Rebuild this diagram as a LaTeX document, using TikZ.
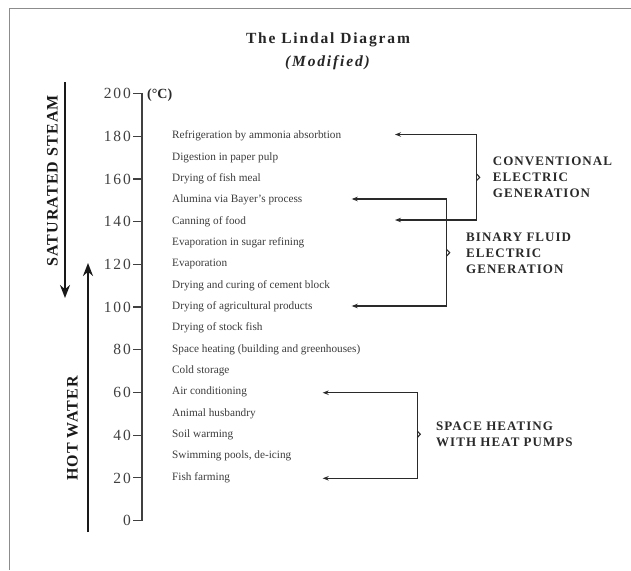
\documentclass[tikz,border=0pt]{standalone}
\usepackage{fontspec}
\setmainfont{Liberation Serif}
\newfontfamily\titlefont[LetterSpace=12]{Liberation Serif}
\newfontfamily\numfont[LetterSpace=12]{Liberation Serif}
\newfontfamily\capfont[LetterSpace=8]{Liberation Serif}
\newfontfamily\sidefont[LetterSpace=7]{Liberation Serif}
\usetikzlibrary{arrows.meta}
\definecolor{itemgray}{HTML}{3C3C3C}
\definecolor{axisgray}{HTML}{404040}
\definecolor{linedark}{HTML}{2A2A2A}
\definecolor{framegray}{HTML}{8C8C8C}
\tikzset{
  itemtext/.style={anchor=base west, inner sep=0pt, text=itemgray, font=\fontsize{11.25}{13}\selectfont},
  numtext/.style={anchor=base east, inner sep=0pt, text=axisgray, font=\numfont\fontsize{15.5}{17}\selectfont},
  grouplabel/.style={anchor=base west, inner sep=0pt, text=linedark, align=left, font=\capfont\bfseries\fontsize{13}{15.8}\selectfont},
  sidelabel/.style={inner sep=0pt, rotate=90, text=black!90, font=\sidefont\bfseries\fontsize{16}{18}\selectfont},
  axisline/.style={draw=axisgray, line width=1.2pt},
  bracketline/.style={draw=linedark, line width=1.2pt, {Stealth[length=6pt,width=4.5pt]}-{Stealth[length=6pt,width=4.5pt]}},
  notchline/.style={draw=linedark, line width=1.1pt},
  bigarrow/.style={draw=black!90, line width=1.9pt, -{Stealth[length=13pt,width=10pt]}},
}
\begin{document}
\begin{tikzpicture}[x=1pt,y=-1pt]
\useasboundingbox[fill=white] (0,0) rectangle (631,570);
% frame (top and left)
\draw[framegray, line width=1.6pt] (9.5,570) -- (9.5,8.5) -- (631,8.5);
% title
\node[anchor=base, inner sep=0pt, font=\titlefont\bfseries\fontsize{15.5}{18}\selectfont, text=black!85] (title) at (328,43.5) {The Lindal Diagram};
\node[anchor=base, inner sep=0pt, font=\titlefont\bfseries\itshape\fontsize{15.5}{18}\selectfont, text=black!85] (subtitle) at (327.5,66.5) {(Modified)};
% axis
\draw[axisline] (133,93.5) -- (142,93.5) -- (142,520.5) -- (133,520.5);
\foreach \t in {180,160,...,20} {
  \pgfmathsetmacro\yy{520.5-2.135*\t}
  \draw[axisline] (133,\yy) -- (142,\yy);
}
\foreach \t in {200,180,...,0} {
  \pgfmathsetmacro\yy{520.5-2.135*\t}
  \node[numtext] (n\t) at (131,\yy+5.2) {\t};
}
\node[anchor=base west, inner sep=0pt, text=linedark, font=\bfseries\fontsize{14}{16}\selectfont] (unit) at (147,98.5) {(°C)};
% items
\foreach \t/\txt in {180/Refrigeration by ammonia absorbtion,
  170/Digestion in paper pulp,
  160/Drying of fish meal,
  150/Alumina via Bayer’s process,
  140/Canning of food,
  130/Evaporation in sugar refining,
  120/Evaporation,
  110/Drying and curing of cement block,
  100/Drying of agricultural products,
  90/Drying of stock fish,
  80/Space heating (building and greenhouses),
  70/Cold storage,
  60/Air conditioning,
  50/Animal husbandry,
  40/Soil warming,
  30/{Swimming pools, de-icing},
  20/Fish farming} {
  \pgfmathsetmacro\yy{520.5-2.135*\t}
  \node[itemtext] (i\t) at (172,\yy+2.5) {\txt};
}
% side arrows and labels
\coordinate (steamtop) at (65,82);
\coordinate (steamtip) at (65,298);
\draw[bigarrow] (steamtop) -- (steamtip);
\node[sidelabel] (steam) at (52.5,181) {SATURATED STEAM};
\coordinate (hotbot) at (88,532);
\coordinate (hottip) at (88,263);
\draw[bigarrow] (hotbot) -- (hottip);
\node[sidelabel] (hot) at (72.5,428.5) {HOT WATER};
% conventional electric generation
\coordinate (c1a) at (395,134.5);
\coordinate (c1b) at (476.7,134.5);
\coordinate (c1c) at (476.7,220);
\coordinate (c1d) at (395,220);
\draw[bracketline] (c1a) -- (c1b) -- (c1c) -- (c1d);
\draw[notchline] (476.7,174) -- (479.7,177.3) -- (476.7,180.5);
\node[grouplabel] (conv) at (492.7,197) {CONVENTIONAL\\ELECTRIC\\GENERATION};
% binary fluid electric generation
\coordinate (c2a) at (351.7,199);
\coordinate (c2b) at (446.7,199);
\coordinate (c2c) at (446.7,306);
\coordinate (c2d) at (351.7,306);
\draw[bracketline] (c2a) -- (c2b) -- (c2c) -- (c2d);
\draw[notchline] (446.7,249.5) -- (449.7,252.7) -- (446.7,256);
\node[grouplabel] (binary) at (466,273.5) {BINARY FLUID\\ELECTRIC\\GENERATION};
% space heating with heat pumps
\coordinate (c3a) at (322.7,392.7);
\coordinate (c3b) at (417.3,392.7);
\coordinate (c3c) at (417.3,478.3);
\coordinate (c3d) at (322.7,478.3);
\draw[bracketline] (c3a) -- (c3b) -- (c3c) -- (c3d);
\draw[notchline] (417.3,431) -- (420.3,434.3) -- (417.3,437.5);
\node[grouplabel] (space) at (436,446.2) {SPACE HEATING\\WITH HEAT PUMPS};
\end{tikzpicture}
\end{document}
